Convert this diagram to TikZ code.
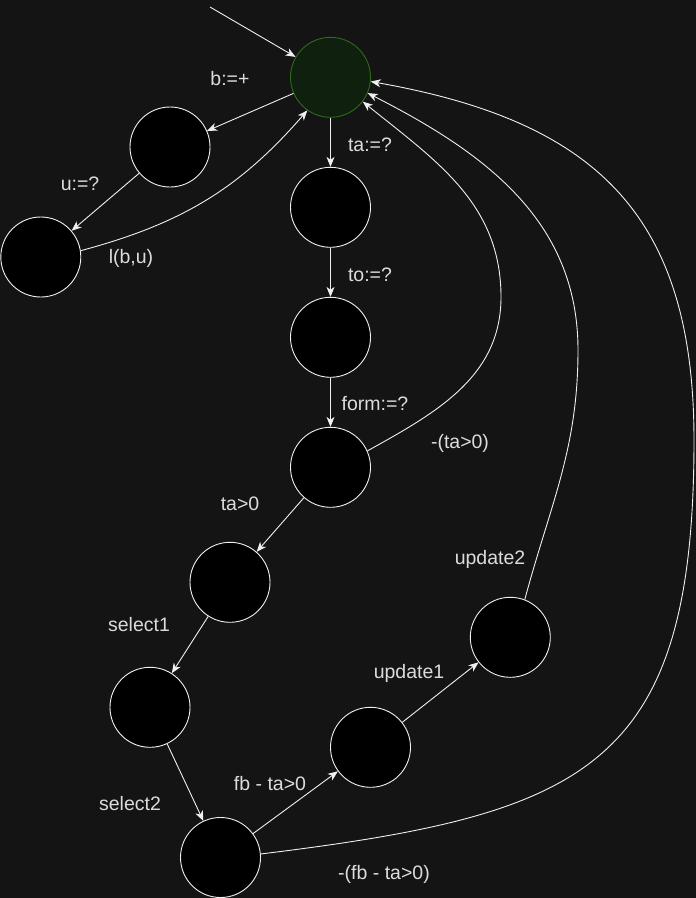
\documentclass[tikz,border=0pt]{standalone}
\usepackage{fontspec}
\setmainfont{Liberation Sans}
\usetikzlibrary{arrows.meta}
\definecolor{bgc}{HTML}{141414}
\definecolor{edgec}{HTML}{F0F0F0}
\definecolor{txtc}{HTML}{DCDCDC}
\definecolor{gfill}{HTML}{0F200E}
\definecolor{gdraw}{HTML}{2E6A1C}
\begin{document}
\begin{tikzpicture}[x=1pt,y=-1pt,
  state/.style={circle,minimum size=80pt,inner sep=0pt,draw=edgec,fill=black,line width=0.9pt},
  initstate/.style={state,draw=gdraw,fill=gfill},
  edge/.style={draw=edgec,line width=0.9pt,-{Stealth[length=10pt,width=8pt,inset=3pt]}},
  lbl/.style={text=txtc,anchor=base,inner sep=0pt,font=\fontsize{19.5pt}{22pt}\selectfont}]
\fill[bgc] (0,0) rectangle (696,898);
\useasboundingbox (0,0) rectangle (696,898);
% states
\node[initstate] (S0) at (330.5,77.3) {};
\node[state] (A) at (170,147) {};
\node[state] (B) at (40.8,257) {};
\node[state] (C) at (330.5,207.3) {};
\node[state] (D) at (330.5,337.3) {};
\node[state] (E) at (330.5,467.3) {};
\node[state] (F) at (230,582.3) {};
\node[state] (G) at (150,707.3) {};
\node[state] (H) at (220.5,857.5) {};
\node[state] (I) at (370.5,747.3) {};
\node[state] (J) at (510.3,637.3) {};
% waypoints
\coordinate (st) at (210,7);
\coordinate (M1) at (501,297);
\coordinate (M2) at (578,350);
\coordinate (M3) at (694,440);
% edges
\draw[edge] (st) -- (S0);
\draw[edge] (S0) -- (A);
\draw[edge] (A) -- (B);
\draw[edge] (B.9) to[out=15,in=229] (S0.235);
\draw[edge] (S0) -- (C);
\draw[edge] (C) -- (D);
\draw[edge] (D) -- (E);
\draw[edge] (E.24) to[out=29,in=-90] (M1) to[out=90,in=-39] (S0.-37);
\draw[edge] (E) -- (F);
\draw[edge] (F) -- (G);
\draw[edge] (G) -- (H);
\draw[edge] (H) -- (I);
\draw[edge] (I) -- (J);
\draw[edge] (J.69) to[out=75,in=-90] (M2) to[out=90,in=-27] (S0.-23);
\draw[edge] (H.5) to[out=7,in=-90,looseness=1.4] (M3) to[out=90,in=-10,looseness=1.2] (S0.-6);
% labels
\node[lbl] (l1) at (230,85) {b:=+};
\node[lbl] (l2) at (80,190.5) {u:=?};
\node[lbl] (l3) at (131,263) {l(b,u)};
\node[lbl] (l4) at (370,151.5) {ta:=?};
\node[lbl] (l5) at (370,281.5) {to:=?};
\node[lbl] (l6) at (375,410.5) {form:=?};
\node[lbl] (l7) at (460,448.5) {-(ta>0)};
\node[lbl] (l8) at (240,510.5) {ta>0};
\node[lbl] (l9) at (139,631.5) {select1};
\node[lbl] (l10) at (130,810.5) {select2};
\node[lbl] (l11) at (270,790.5) {fb - ta>0};
\node[lbl] (l12) at (409,678.5) {update1};
\node[lbl] (l13) at (490,564) {update2};
\node[lbl] (l14) at (384,879) {-(fb - ta>0)};
\end{tikzpicture}
\end{document}
